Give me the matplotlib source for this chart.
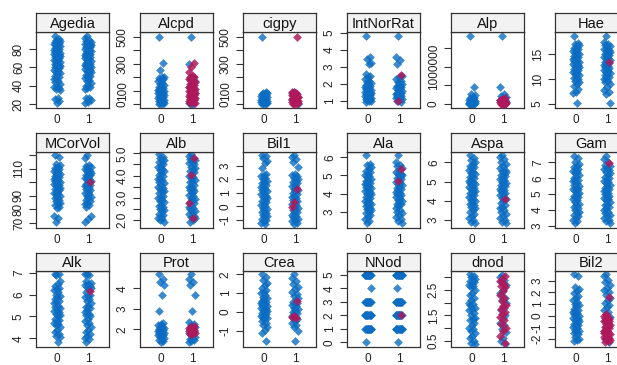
import numpy as np
import matplotlib
matplotlib.use('Agg')
import matplotlib.pyplot as plt

plt.rcParams['font.family'] = ['Liberation Sans', 'DejaVu Sans']

# ---------------- data ----------------
names = ["Agedia", "Alcpd", "cigpy", "IntNorRat", "Alp", "Hae",
         "MCorVol", "Alb", "Bil1", "Ala", "Aspa", "Gam",
         "Alk", "Prot", "Crea", "NNod", "dnod", "Bil2"]
x_labels = ["0", "1"]

agedia_0 = [94, 91, 90, 89, 88, 88, 87, 86, 85, 84, 84, 83, 82, 81, 80, 80, 79, 78, 77, 76, 76, 75, 74, 73, 72, 72, 71, 70, 69, 68, 68, 67, 66, 65, 64, 63, 63, 62, 61, 60, 59, 58, 57, 56, 55, 54, 53, 51, 50, 48, 47, 45, 44, 42, 40, 39, 37, 36, 35, 27, 25, 23, 21]
agedia_1 = [94, 92, 90, 89, 88, 87, 86, 86, 85, 84, 83, 82, 82, 81, 80, 79, 78, 78, 77, 76, 75, 74, 74, 73, 72, 71, 70, 70, 69, 68, 67, 66, 65, 64, 64, 63, 62, 61, 60, 59, 58, 57, 56, 55, 54, 52, 51, 49, 48, 46, 45, 43, 41, 40, 38, 37, 36, 27, 26, 24, 22, 21]
agedia_r = []

alcpd_0 = [500, 305, 250, 205, 200, 195, 190, 180, 170, 160, 150, 140, 130, 125, 120, 110, 105, 100, 100, 95, 90, 85, 80, 75, 70, 65, 60, 55, 50, 45, 40, 35, 30, 25, 20, 15, 10, 5, 0, 0]
alcpd_1 = [500, 300, 200, 190, 170, 150, 130, 110, 95, 80, 65, 50, 35, 20, 10, 0, 0]
alcpd_r = [305, 275, 240, 210, 205, 200, 195, 190, 180, 170, 165, 160, 150, 145, 140, 130, 125, 120, 110, 105, 100, 95, 90, 85, 80, 75, 70, 65, 60, 55, 50, 45, 40, 35, 30, 25, 20, 15, 10, 5]

cigpy_0 = [500, 90, 85, 80, 78, 75, 70, 65, 62, 60, 55, 50, 48, 45, 40, 35, 32, 30, 25, 20, 18, 15, 10, 8, 5, 2, 0]
cigpy_1 = [90, 80, 70, 60, 50, 40, 30, 20, 10, 0]
cigpy_r = [500, 92, 88, 85, 80, 75, 70, 68, 65, 60, 55, 50, 45, 42, 40, 35, 30, 28, 25, 20, 15, 12, 10, 5, 2, 0]

intnor_0 = [4.8, 3.6, 3.45, 3.25, 3.2, 2.6, 2.5, 2.4, 2.3, 2.2, 2.1, 2.05, 2.0, 1.95, 1.9, 1.85, 1.8, 1.75, 1.7, 1.65, 1.6, 1.55, 1.5, 1.5, 1.45, 1.4, 1.4, 1.35, 1.3, 1.3, 1.25, 1.2, 1.2, 1.15, 1.1, 1.1, 1.05, 1.0, 1.0, 0.95]
intnor_1 = [4.8, 3.6, 3.4, 3.2, 2.5, 2.4, 2.3, 2.2, 2.1, 2.0, 1.95, 1.9, 1.85, 1.8, 1.75, 1.7, 1.65, 1.6, 1.55, 1.5, 1.45, 1.4, 1.4, 1.35, 1.3, 1.3, 1.25, 1.2, 1.2, 1.15, 1.1, 1.05, 1.0, 0.95]
intnor_r = [2.55, 1.0]

alp_0 = [1.82e6, 4.5e5, 2.7e5, 2.3e5, 2e5, 1.7e5, 1.5e5, 1.3e5, 1.1e5, 1e5, 9e4, 8e4, 7e4, 6e4, 5e4, 4e4, 3e4, 2.5e4, 2e4, 1.5e4, 1e4, 5e3, 3e3, 0]
alp_1 = [1.82e6, 4.5e5, 2.7e5, 2.2e5, 1.8e5, 1.5e5, 1.2e5, 1e5, 8e4, 6e4, 4e4, 2e4, 1e4, 0]
alp_r = [1.6e5, 1.3e5, 1.1e5, 9e4, 8e4, 7e4, 6e4, 5e4, 4e4, 3e4, 2e4, 1.5e4, 1e4, 5e3, 0]

hae_0 = [18.6, 17.3, 17.0, 16.8, 16.5, 16.3, 16.0, 15.8, 15.6, 15.4, 15.2, 15.0, 14.8, 14.6, 14.4, 14.2, 14.0, 13.8, 13.6, 13.4, 13.2, 13.0, 12.8, 12.6, 12.4, 12.2, 12.0, 11.8, 11.6, 11.4, 11.2, 11.0, 10.8, 10.5, 10.2, 10.0, 9.7, 9.4, 9.0, 8.6, 8.0, 7.5, 7.2, 5.2]
hae_1 = [18.6, 17.4, 17.1, 16.9, 16.6, 16.3, 16.1, 15.9, 15.6, 15.4, 15.2, 15.0, 14.8, 14.6, 14.4, 14.2, 14.0, 13.8, 13.6, 13.4, 13.2, 13.0, 12.8, 12.6, 12.4, 12.2, 12.0, 11.8, 11.6, 11.4, 11.2, 11.0, 10.8, 10.5, 10.2, 10.0, 9.7, 9.4, 9.0, 8.5, 7.9, 7.4, 7.0, 5.2]
hae_r = [13.4]

mcor_0 = [120, 118.5, 113.5, 112.5, 111.5, 110.5, 110, 109, 108, 107.5, 107, 106, 105, 104.5, 104, 103, 102, 101.5, 101, 100, 99, 98.5, 98, 97, 96, 95.5, 95, 94, 93, 92, 91.5, 91, 90, 89, 88, 87, 86, 85, 84, 83, 82, 81, 75, 73.5, 71]
mcor_1 = [120, 118, 113, 112, 111, 110, 109.5, 108.5, 108, 107, 106, 105.5, 105, 104, 103, 102.5, 102, 101, 100, 99, 98, 97.5, 97, 96, 95, 94, 93, 92, 91, 90, 89, 88, 87, 86, 85, 84, 83, 82, 75, 73, 71]
mcor_r = [100.2]

alb_0 = [4.95, 4.85, 4.8, 4.7, 4.65, 4.6, 4.5, 4.45, 4.4, 4.3, 4.25, 4.2, 4.1, 4.05, 4.0, 3.9, 3.85, 3.8, 3.7, 3.65, 3.6, 3.5, 3.45, 3.4, 3.3, 3.25, 3.2, 3.1, 3.05, 3.0, 2.9, 2.85, 2.8, 2.7, 2.65, 2.6, 2.5, 2.45, 2.4, 2.3, 2.25, 2.2, 2.1, 2.05, 2.0, 1.9]
alb_1 = [4.95, 4.9, 4.8, 4.75, 4.7, 4.6, 4.55, 4.5, 4.4, 4.35, 4.3, 4.2, 4.15, 4.1, 4.0, 3.95, 3.9, 3.8, 3.75, 3.7, 3.6, 3.55, 3.5, 3.4, 3.35, 3.3, 3.2, 3.15, 3.1, 3.0, 2.95, 2.9, 2.8, 2.75, 2.7, 2.6, 2.55, 2.5, 2.4, 2.35, 2.3, 2.2, 2.15, 2.1, 2.0, 1.9]
alb_r = [4.8, 4.03, 2.75, 2.1]

bil1_0 = [3.8, 3.7, 3.55, 3.35, 3.2, 2.8, 2.4, 2.3, 2.2, 2.1, 2.0, 1.9, 1.8, 1.7, 1.6, 1.5, 1.4, 1.3, 1.2, 1.1, 1.0, 0.9, 0.8, 0.7, 0.6, 0.5, 0.4, 0.3, 0.2, 0.1, 0.0, -0.1, -0.2, -0.3, -0.4, -0.5, -0.6, -0.7, -0.8, -0.9, -1.0, -1.1, -1.2, -1.3]
bil1_1 = [3.8, 3.6, 3.45, 3.3, 2.9, 2.4, 2.3, 2.2, 2.1, 2.0, 1.9, 1.8, 1.7, 1.6, 1.5, 1.4, 1.3, 1.2, 1.1, 1.0, 0.9, 0.8, 0.7, 0.6, 0.5, 0.4, 0.3, 0.2, 0.1, 0.0, -0.1, -0.2, -0.3, -0.4, -0.5, -0.6, -0.7, -0.8, -0.9, -1.0, -1.1, -1.2, -1.3]
bil1_r = [1.3, 0.35, -0.08]

ala_0 = [6.1, 5.65, 5.55, 5.45, 5.35, 5.25, 5.2, 5.1, 5.0, 4.95, 4.9, 4.8, 4.75, 4.7, 4.6, 4.55, 4.5, 4.4, 4.35, 4.3, 4.2, 4.15, 4.1, 4.0, 3.95, 3.9, 3.8, 3.75, 3.7, 3.6, 3.55, 3.5, 3.4, 3.35, 3.3, 3.2, 3.15, 3.1, 3.0, 2.9, 2.8, 2.7, 2.6, 2.5, 2.4]
ala_1 = [6.1, 5.75, 5.6, 5.5, 5.4, 5.3, 5.2, 5.1, 5.05, 5.0, 4.9, 4.85, 4.8, 4.7, 4.65, 4.6, 4.5, 4.45, 4.4, 4.3, 4.25, 4.2, 4.1, 4.05, 4.0, 3.9, 3.85, 3.8, 3.7, 3.65, 3.6, 3.5, 3.45, 3.4, 3.3, 3.2, 3.1, 3.0, 2.9, 2.8, 2.7, 2.6, 2.5, 2.4]
ala_r = [5.37, 4.67]

aspa_0 = [6.38, 6.25, 6.1, 6.0, 5.9, 5.8, 5.75, 5.7, 5.6, 5.5, 5.45, 5.4, 5.3, 5.25, 5.2, 5.1, 5.05, 5.0, 4.9, 4.85, 4.8, 4.7, 4.65, 4.6, 4.5, 4.45, 4.4, 4.3, 4.25, 4.2, 4.1, 4.05, 4.0, 3.9, 3.85, 3.8, 3.7, 3.6, 3.5, 3.4, 3.3, 3.2, 3.1, 3.0, 2.9, 2.85]
aspa_1 = [6.38, 6.3, 6.15, 6.0, 5.9, 5.8, 5.7, 5.6, 5.55, 5.5, 5.4, 5.35, 5.3, 5.2, 5.15, 5.1, 5.0, 4.95, 4.9, 4.8, 4.75, 4.7, 4.6, 4.55, 4.5, 4.4, 4.35, 4.3, 4.2, 4.15, 4.1, 4.0, 3.9, 3.8, 3.7, 3.6, 3.5, 3.4, 3.3, 3.2, 3.1, 3.0, 2.9, 2.85]
aspa_r = [4.07]

gam_0 = [7.4, 7.3, 7.0, 6.9, 6.8, 6.7, 6.6, 6.5, 6.45, 6.4, 6.3, 6.2, 6.1, 6.0, 5.9, 5.85, 5.8, 5.7, 5.6, 5.5, 5.4, 5.35, 5.3, 5.2, 5.1, 5.0, 4.9, 4.85, 4.8, 4.7, 4.6, 4.5, 4.4, 4.3, 4.2, 4.1, 4.0, 3.9, 3.8, 3.7, 3.6, 3.5, 3.4, 3.3, 3.2]
gam_1 = [7.4, 7.2, 7.0, 6.85, 6.75, 6.65, 6.55, 6.5, 6.4, 6.3, 6.2, 6.1, 6.0, 5.9, 5.8, 5.75, 5.7, 5.6, 5.5, 5.4, 5.3, 5.25, 5.2, 5.1, 5.0, 4.9, 4.8, 4.75, 4.7, 4.6, 4.5, 4.4, 4.3, 4.2, 4.1, 4.0, 3.9, 3.8, 3.7, 3.6, 3.5, 3.4, 3.3, 3.2]
gam_r = [6.93]

alk_0 = [6.93, 6.93, 6.9, 6.6, 6.5, 6.4, 6.3, 6.25, 6.2, 6.1, 6.0, 5.95, 5.9, 5.8, 5.7, 5.65, 5.6, 5.5, 5.45, 5.4, 5.3, 5.25, 5.2, 5.1, 5.05, 5.0, 4.9, 4.85, 4.8, 4.7, 4.65, 4.6, 4.5, 4.4, 4.3, 4.2, 4.1, 4.05, 3.85]
alk_1 = [6.93, 6.93, 6.9, 6.6, 6.55, 6.5, 6.45, 6.4, 6.35, 6.3, 6.2, 6.1, 6.0, 5.95, 5.9, 5.8, 5.7, 5.6, 5.5, 5.45, 5.4, 5.3, 5.2, 5.1, 5.05, 5.0, 4.9, 4.8, 4.7, 4.6, 4.5, 4.4, 4.3, 4.2, 4.1, 4.0, 3.95, 3.85]
alk_r = [6.16]

prot_0 = [4.7, 4.44, 4.32, 4.16, 3.67, 2.87, 2.32, 2.25, 2.2, 2.15, 2.1, 2.05, 2.0, 2.0, 1.95, 1.9, 1.9, 1.85, 1.8, 1.8, 1.75, 1.7, 1.7, 1.65, 1.6, 1.55, 1.5, 1.45, 1.4]
prot_1 = [4.7, 4.45, 4.3, 4.15, 3.67, 2.87, 2.35, 2.25, 2.2, 2.1, 2.0, 1.95, 1.9, 1.85, 1.8, 1.75, 1.7, 1.65, 1.6, 1.55, 1.5, 1.45, 1.4]
prot_r = [2.15, 2.1, 2.08, 2.05, 2.0, 1.98, 1.95, 1.9, 1.88, 1.85, 1.8, 1.78, 1.75]

crea_0 = [2.0, 1.85, 1.7, 1.55, 1.45, 1.3, 1.15, 1.05, 1.0, 0.9, 0.8, 0.75, 0.7, 0.6, 0.55, 0.5, 0.45, 0.4, 0.35, 0.3, 0.25, 0.2, 0.15, 0.1, 0.05, 0.0, -0.05, -0.1, -0.15, -0.2, -0.25, -0.3, -0.35, -0.4, -0.5, -0.6, -0.7, -0.8, -0.95, -1.1, -1.56]
crea_1 = [2.0, 1.8, 1.65, 1.5, 1.35, 1.2, 1.05, 0.95, 0.85, 0.75, 0.65, 0.55, 0.5, 0.4, 0.35, 0.3, 0.2, 0.15, 0.1, 0.0, -0.05, -0.1, -0.2, -0.25, -0.3, -0.4, -0.5, -0.6, -0.7, -0.8, -1.0, -1.56]
crea_r = [0.6, -0.2, -0.27, -0.35]

nnod_levels = [0, 1, 2, 3, 4, 5]
nnod_0_counts = [1, 12, 12, 12, 1, 14]
nnod_1_counts = [1, 12, 12, 12, 1, 14]
nnod_r = [2]

dnod_0 = [3.12, 3.05, 3.0, 2.95, 2.9, 2.85, 2.8, 2.75, 2.7, 2.65, 2.6, 2.5, 2.4, 2.3, 2.2, 2.1, 2.0, 1.95, 1.9, 1.8, 1.75, 1.7, 1.6, 1.5, 1.4, 1.35, 1.3, 1.2, 1.1, 1.0, 0.95, 0.9, 0.8, 0.7, 0.6, 0.5, 0.4, 0.38]
dnod_1 = [3.1, 3.0, 2.9, 2.8, 2.7, 2.5, 2.4, 2.2, 2.1, 2.0, 1.8, 1.7, 1.5, 1.4, 1.2, 1.1, 0.95, 0.85, 0.6, 0.5, 0.38]
dnod_r = [3.05, 2.95, 2.85, 2.75, 2.65, 2.6, 2.45, 2.3, 2.2, 2.05, 1.9, 1.85, 1.75, 1.65, 1.55, 1.45, 1.3, 1.15, 1.0, 0.9, 0.7, 0.4]

bil2_0 = [3.58, 3.4, 2.5, 2.3, 2.1, 1.9, 1.7, 1.5, 1.3, 1.2, 1.0, 0.9, 0.8, 0.6, 0.5, 0.4, 0.3, 0.2, 0.1, 0.0, -0.1, -0.2, -0.3, -0.4, -0.5, -0.6, -0.7, -0.8, -0.9, -1.0, -1.1, -1.2, -1.3, -1.4, -1.5, -1.6, -1.8, -2.0, -2.1, -2.2]
bil2_1 = [3.6, 3.4, 3.1, 2.9, 2.6, 2.4, 2.2, 2.0, 1.8, 1.5, 1.3, 1.1, 0.9, 0.7, 0.5, 0.3, 0.1, -0.1, -0.3, -0.5, -0.8, -1.0, -1.3, -1.6, -2.0, -2.3]
bil2_r = [1.6, 0.15, 0.0, -0.1, -0.2, -0.3, -0.4, -0.5, -0.6, -0.7, -0.8, -0.9, -1.0, -1.1, -1.2, -1.3, -1.4, -1.5, -1.6, -1.7, -1.8, -1.9, -2.0, -2.1, -2.2, -2.3, -0.5, -1.0, -1.5, -2.0]

# y tick positions and labels per panel
yticks = [
    [20, 40, 60, 80], [0, 100, 200, 300, 400, 500], [0, 100, 200, 300, 400, 500],
    [1, 2, 3, 4, 5], [0, 5e5, 1e6, 1.5e6], [5, 10, 15],
    [70, 80, 90, 100, 110, 120], [2, 2.5, 3, 3.5, 4, 4.5, 5], [-1, 0, 1, 2, 3],
    [3, 4, 5, 6], [3, 4, 5, 6], [3, 4, 5, 6, 7],
    [4, 5, 6, 7], [2, 3, 4], [-1, 0, 1, 2],
    [0, 1, 2, 3, 4, 5], [0.5, 1, 1.5, 2, 2.5, 3], [-2, -1, 0, 1, 2, 3]]
ytick_labels = [
    ["20", "40", "60", "80"], ["0", "100", "", "300", "", "500"], ["0", "100", "", "300", "", "500"],
    ["1", "2", "3", "4", "5"], ["0", "", "1000000", ""], ["5", "10", "15"],
    ["70", "80", "90", "", "110", ""], ["2.0", "", "3.0", "", "4.0", "", "5.0"], ["-1", "0", "1", "2", "3"],
    ["3", "4", "5", "6"], ["3", "4", "5", "6"], ["3", "4", "5", "6", "7"],
    ["4", "5", "6", "7"], ["2", "3", "4"], ["-1", "0", "1", "2"],
    ["0", "1", "2", "3", "4", "5"], ["0.5", "", "1.5", "", "2.5", ""], ["-2", "-1", "0", "1", "2", "3"]]
ylims = [(15.6, 98.6), (-30, 537), (-30, 537), (0.59, 5.06), (-1.07e5, 1.93e6), (4.2, 19.4),
         (66.3, 122.2), (1.65, 5.06), (-1.59, 4.0), (2.1, 6.29), (2.58, 6.54), (2.87, 7.65),
         (3.6, 7.08), (1.14, 4.84), (-1.87, 2.18), (-0.35, 5.3), (0.25, 3.25), (-2.69, 3.83)]

nnod_0 = list(np.repeat(nnod_levels, nnod_0_counts))
nnod_1 = list(np.repeat(nnod_levels, nnod_1_counts))

group0 = [agedia_0, alcpd_0, cigpy_0, intnor_0, alp_0, hae_0, mcor_0, alb_0, bil1_0,
          ala_0, aspa_0, gam_0, alk_0, prot_0, crea_0, nnod_0, dnod_0, bil2_0]
group1 = [agedia_1, alcpd_1, cigpy_1, intnor_1, alp_1, hae_1, mcor_1, alb_1, bil1_1,
          ala_1, aspa_1, gam_1, alk_1, prot_1, crea_1, nnod_1, dnod_1, bil2_1]
red1 = [agedia_r, alcpd_r, cigpy_r, intnor_r, alp_r, hae_r, mcor_r, alb_r, bil1_r,
        ala_r, aspa_r, gam_r, alk_r, prot_r, crea_r, nnod_r, dnod_r, bil2_r]

# ---------------- layout / style ----------------
W, H = 617, 365
fig = plt.figure(figsize=(W / 100, H / 100), dpi=100)
col_left = [36, 140, 243, 347, 451, 555]
pw = 73
rows = [(13, 32, 108), (133, 152, 228), (253, 271, 347)]
BLUE = '#0a6cc2'
RED = '#b0185a'
EDGE = '#333333'


def jitter(n, level, phase=0.0):
    k = np.arange(n)
    off = ((k * 0.6180339887 + phase) % 1.0) * 2 - 1
    return level + 0.11 * off


for i, name in enumerate(names):
    r, c = divmod(i, 6)
    st, pt, pb = rows[r]
    left = col_left[c] / W
    ax = fig.add_axes([left, 1 - pb / H, pw / W, (pb - pt) / H])
    sax = fig.add_axes([left, 1 - pt / H, pw / W, (pt - st) / H])

    g0 = np.asarray(group0[i], dtype=float)
    g1 = np.asarray(group1[i], dtype=float)
    rr = np.asarray(red1[i], dtype=float)
    ax.scatter(jitter(len(g0), 0, 0.13), g0, marker='D', s=20, color=BLUE,
               alpha=0.8, linewidths=0, zorder=2)
    ax.scatter(jitter(len(g1), 1, 0.41), g1, marker='D', s=20, color=BLUE,
               alpha=0.8, linewidths=0, zorder=2)
    if len(rr):
        ax.scatter(jitter(len(rr), 1, 0.77), rr, marker='D', s=20, color=RED,
                   alpha=0.85, linewidths=0, zorder=3)

    ax.set_xlim(-0.68, 1.68)
    ax.set_ylim(*ylims[i])
    ax.set_xticks([0, 1])
    ax.set_xticklabels(x_labels)
    ax.set_yticks(yticks[i])
    ax.set_yticklabels(ytick_labels[i])
    ax.tick_params(axis='x', length=0, pad=4, labelsize=8.5, colors='#222222')
    ax.tick_params(axis='y', length=5, width=0.8, pad=3, labelsize=8.5,
                   colors='#222222', color=EDGE)
    for lab in ax.get_yticklabels():
        lab.set_rotation(90)
        lab.set_va('center')
        lab.set_ha('right')
    for sp in ax.spines.values():
        sp.set_color(EDGE)
        sp.set_linewidth(0.9)

    sax.set_facecolor('#f2f2f2')
    sax.set_xticks([])
    sax.set_yticks([])
    for sp in sax.spines.values():
        sp.set_color(EDGE)
        sp.set_linewidth(0.9)
    sax.text(0.5, 0.42, name, ha='center', va='center', fontsize=10.5,
             color='#111111', transform=sax.transAxes)

fig.savefig('out.png', dpi=100)
